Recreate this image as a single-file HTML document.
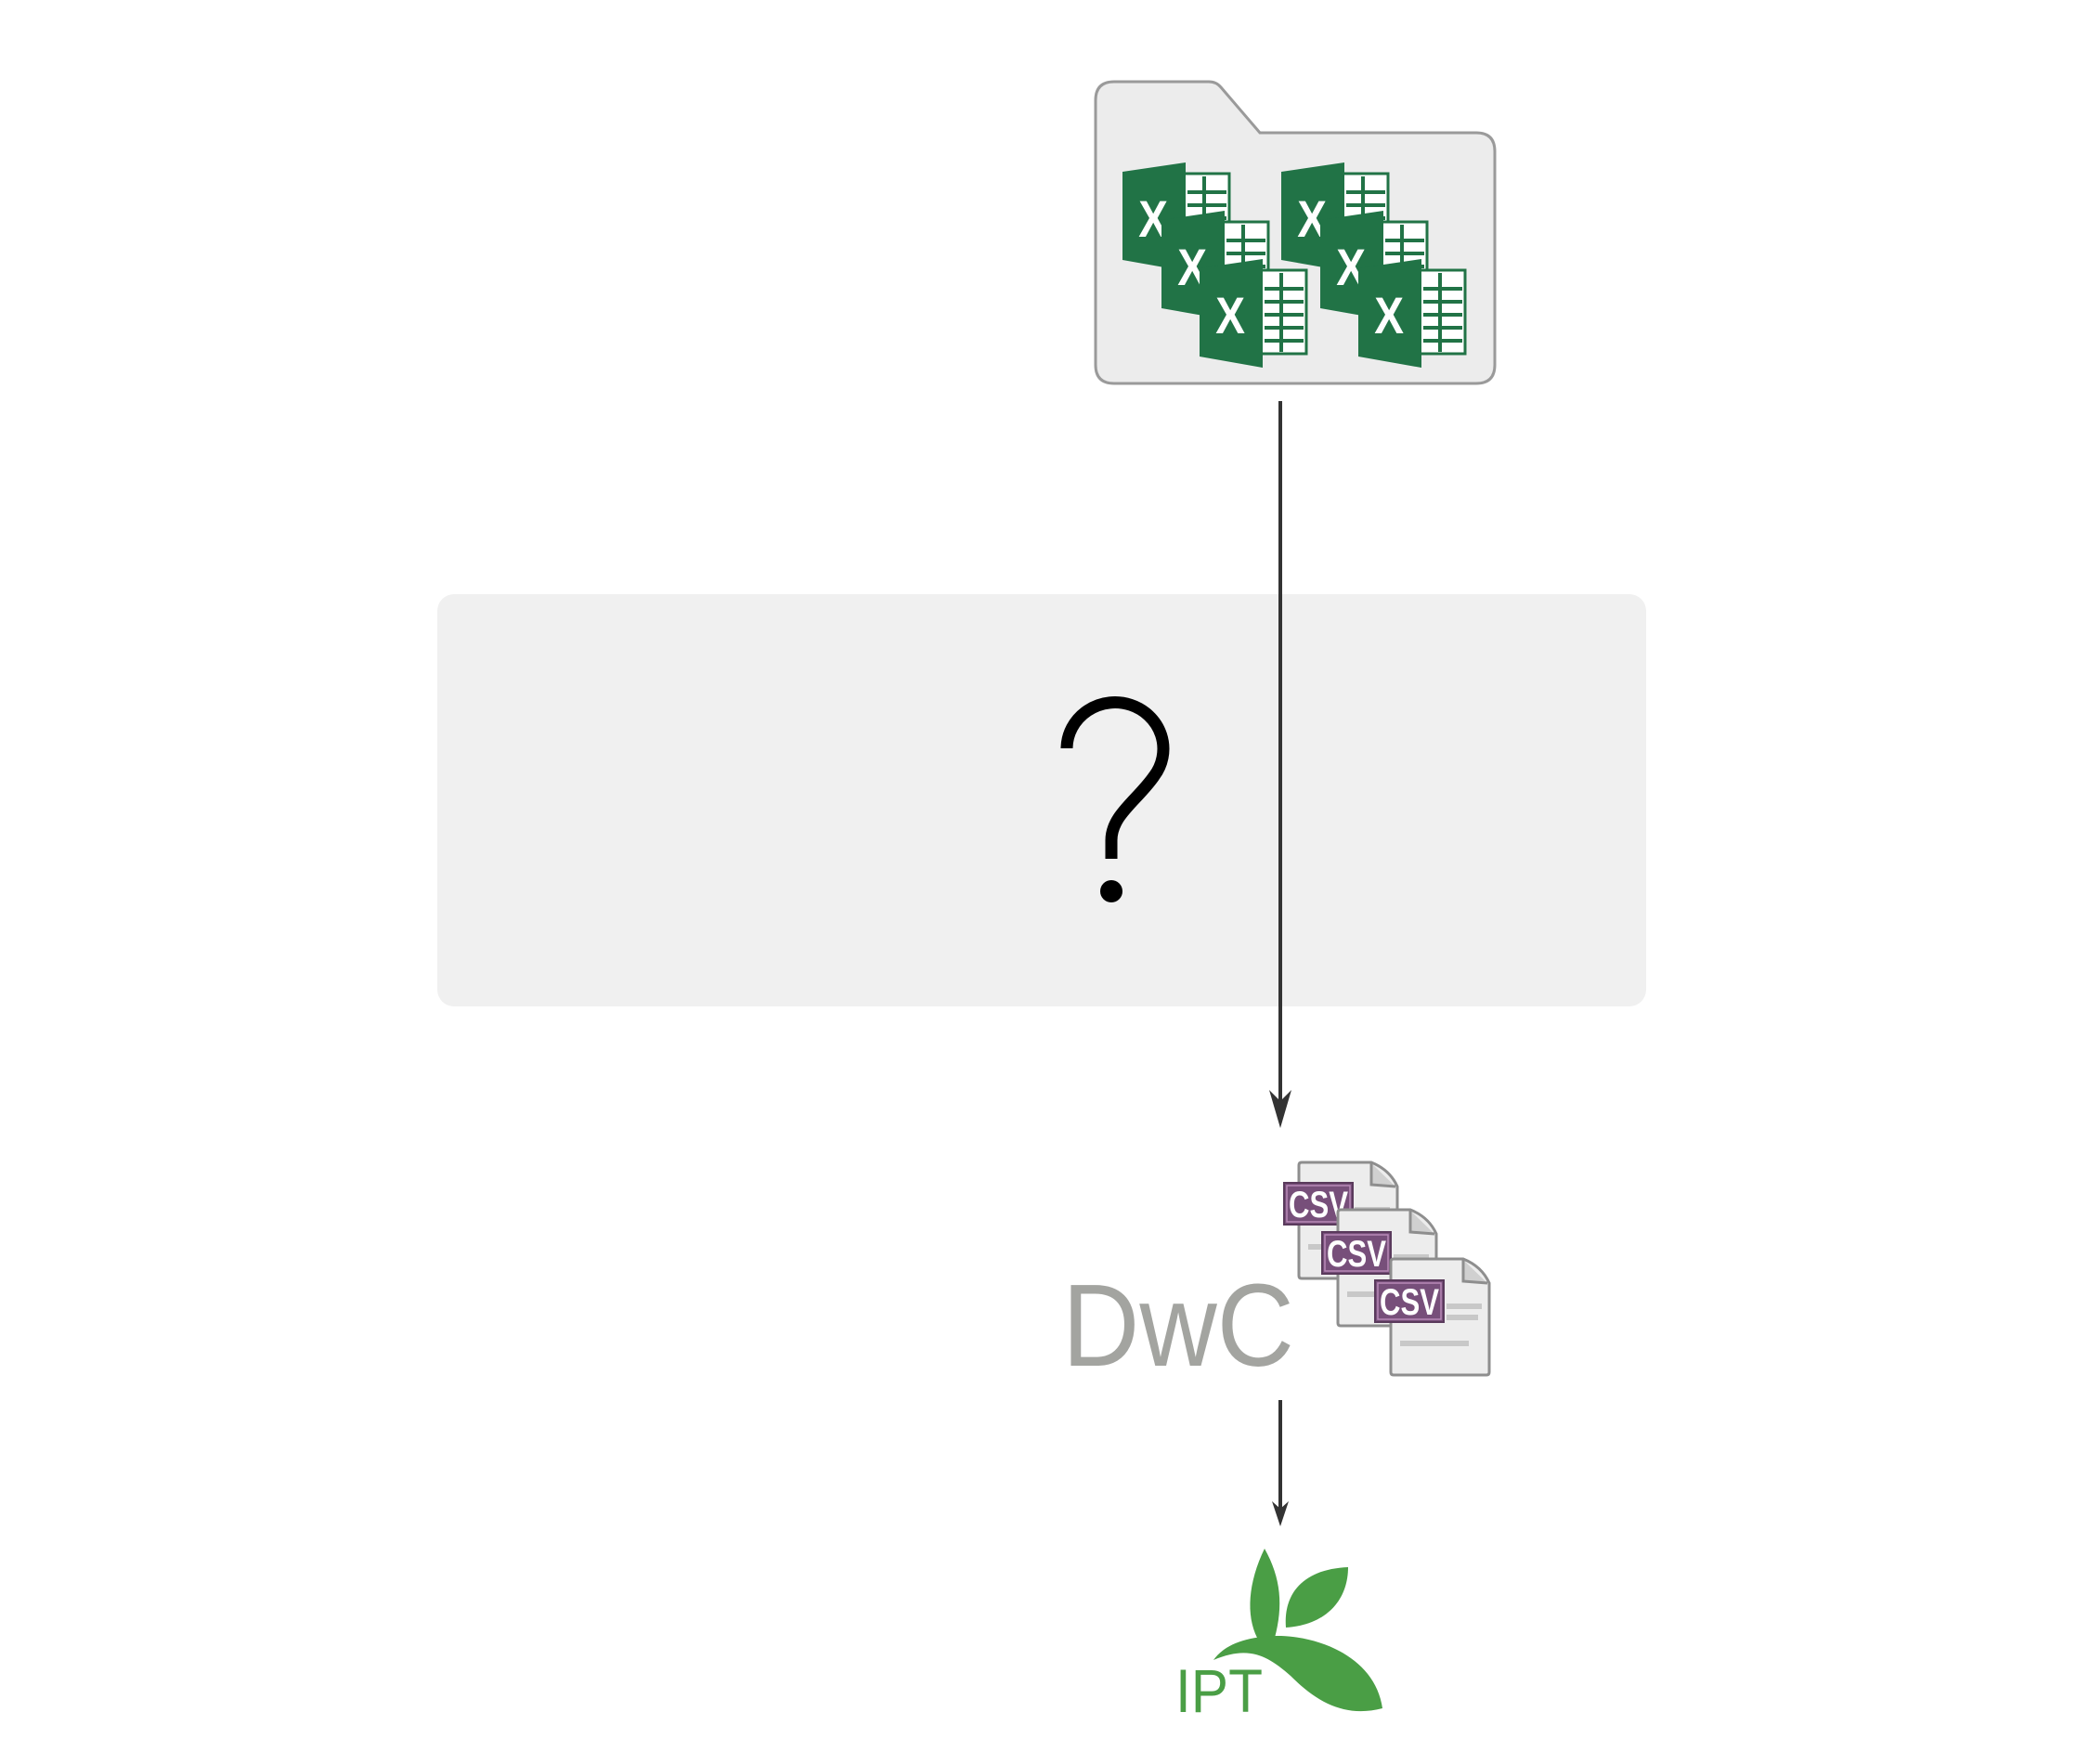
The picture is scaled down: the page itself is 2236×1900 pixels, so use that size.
<!DOCTYPE html>
<html><head><meta charset="utf-8"><style>
html,body{margin:0;padding:0;background:#fff;}
svg{display:block;}
</style></head><body>
<svg width="2236" height="1900" viewBox="0 0 2236 1900" xmlns="http://www.w3.org/2000/svg">
<defs>
<g id="xl">
  <rect x="66" y="12" width="49" height="90" fill="#fff" stroke="#217346" stroke-width="3"/>
  <g fill="#217346">
    <rect x="70" y="30" width="42" height="4"/><rect x="70" y="44" width="42" height="4"/><rect x="70" y="58" width="42" height="4"/><rect x="70" y="72" width="42" height="4"/><rect x="70" y="86" width="42" height="4"/>
    <rect x="86" y="15" width="4" height="85"/>
  </g>
  <polygon points="0,10 68,0 68,117 0,105" fill="#217346"/>
  <text x="33" y="80" text-anchor="middle" font-family="Liberation Sans, sans-serif" font-weight="bold" font-size="56" fill="#fff" transform="scale(0.85,1) translate(6,0)">X</text>
</g>
<g id="doc">
  <path d="M0,3 Q0,0 3,0 L78,0 Q98,8 106,26 L106,122 Q106,125 103,125 L3,125 Q0,125 0,122Z" fill="#ededed" stroke="#8e8e8e" stroke-width="3"/>
  <path d="M78,1 L78,24 L104,26" fill="#d0d0d0" stroke="#8e8e8e" stroke-width="3"/>
  <rect x="10" y="88" width="74" height="6" fill="#c8c8c8"/>
  <rect x="60" y="48" width="38" height="6" fill="#c8c8c8"/>
  <rect x="60" y="60" width="34" height="6" fill="#c8c8c8"/>
</g>
<g id="csv">
  <rect x="0" y="0" width="74" height="45" fill="#774f7a" stroke="#5a3a5c" stroke-width="2"/>
  <rect x="3" y="3" width="68" height="39" fill="none" stroke="#b88ab8" stroke-width="1.5"/>
  <text x="5" y="37" font-family="Liberation Sans, sans-serif" font-weight="bold" font-size="40" fill="#fff" textLength="64" lengthAdjust="spacingAndGlyphs">CSV</text>
</g>
</defs>

<path d="M1200,88 L1302,88 Q1310,88 1315,94 L1357,143 L1590,143 Q1610,143 1610,163 L1610,393 Q1610,413 1590,413 L1200,413 Q1180,413 1180,393 L1180,108 Q1180,88 1200,88Z" fill="#ececec" stroke="#9a9a9a" stroke-width="3"/>
<use href="#xl" x="1209" y="175"/>
<use href="#xl" x="1251" y="227"/>
<use href="#xl" x="1292" y="279"/>
<use href="#xl" x="1380" y="175"/>
<use href="#xl" x="1422" y="227"/>
<use href="#xl" x="1463" y="279"/>

<rect x="471" y="640" width="1302" height="444" rx="18" fill="#f0f0f0"/>

<path d="M1149,806 L1149,805 A52,50 0 1 1 1243,836 C1225,862 1197,878 1197,905 L1197,925" fill="none" stroke="#000" stroke-width="13"/>
<circle cx="1197" cy="960" r="12" fill="#000"/>

<line x1="1379" y1="432" x2="1379" y2="1195" stroke="#333" stroke-width="4"/>
<path d="M1379,1215 L1367,1174 L1379,1186 L1391,1174Z" fill="#333"/>

<text x="1144" y="1471" font-family="Liberation Sans, sans-serif" font-size="126" fill="#a3a4a0" textLength="250" lengthAdjust="spacingAndGlyphs">DwC</text>

<use href="#doc" x="1399" y="1252"/>
<use href="#csv" x="1383" y="1274"/>
<use href="#doc" x="1441" y="1303"/>
<use href="#csv" x="1424" y="1327"/>
<use href="#doc" x="1498" y="1356"/>
<use href="#csv" x="1481" y="1379"/>

<line x1="1379" y1="1508" x2="1379" y2="1630" stroke="#333" stroke-width="4"/>
<path d="M1379,1644 L1370,1617 L1379,1625 L1388,1617Z" fill="#333"/>

<g fill="#4a9e45">
<path d="M1362,1668 C1344,1705 1342,1740 1354,1764 L1373,1764 C1382,1730 1380,1700 1362,1668Z"/>
<path d="M1385,1753 C1382,1715 1405,1690 1452,1688 C1452,1722 1430,1750 1385,1753Z"/>
<path d="M1307,1788 C1320,1770 1345,1762 1380,1762 C1430,1764 1482,1790 1489,1840 C1450,1850 1420,1835 1390,1805 C1365,1783 1345,1772 1307,1788Z"/>
<text x="1266" y="1844" font-family="Liberation Sans, sans-serif" font-size="66" textLength="94" lengthAdjust="spacingAndGlyphs">IPT</text>
</g>
</svg>
</body></html>
